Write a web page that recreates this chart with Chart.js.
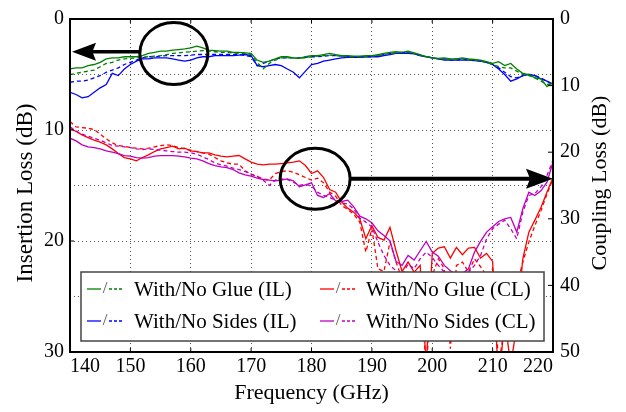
<!DOCTYPE html>
<html><head><meta charset="utf-8">
<script src="https://cdn.jsdelivr.net/npm/chart.js@4.4.0/dist/chart.umd.min.js"></script>
<style>html,body{margin:0;padding:0;background:#fff;}#wrap{width:626px;height:412px;}</style>
</head><body><div id="wrap"><canvas id="c" width="626" height="412"></canvas></div>
<script>
const freq = [140,141,142,143,144,145,146,147,148,149,150,151,152,153,154,155,156,157,158,159,160,161,162,163,164,165,166,167,168,169,170,171,172,173,174,175,176,177,178,179,180,181,182,183,184,185,186,187,188,189,190,191,192,193,194,195,196,197,198,199,200,201,202,203,204,205,206,207,208,209,210,211,212,213,214,215,216,217,218,219,220];

// Insertion loss (left axis, dB)
const withGlueIL = [4.5,4.4,4.4,4.2,4.1,3.9,3.6,3.5,3.5,3.4, 3.4,3.4,3.3,3.1,3.0,2.9,2.9,2.8,2.75,2.7, 2.6,2.45,2.6,2.8,2.85,2.9,2.9,3.0,3.0,3.05, 3.1,3.7,3.9,3.8,3.6,3.4,3.4,3.5,3.55,3.4, 3.3,3.3,3.2,3.1,3.2,3.3,3.3,3.35,3.35,3.3, 3.3,3.2,3.1,3.0,2.95,3.0,2.9,3.05,3.2,3.4, 3.5,3.55,3.5,3.6,3.6,3.5,3.6,3.65,3.7,3.85, 4.0,3.85,4.2,4.0,4.5,4.9,5.0,5.3,5.4,6.1,5.7];
const noGlueIL = [5.0,4.9,4.8,4.7,4.6,4.3,4.0,3.9,3.7,3.6, 3.55,3.5,3.45,3.4,3.35,3.3,3.2,3.1,3.05,3.0, 2.95,2.9,2.85,2.9,2.95,3.0,3.0,3.05,3.1,3.1, 3.2,3.9,4.5,4.0,3.7,3.5,3.5,3.5,3.55,3.5, 3.4,3.35,3.3,3.25,3.3,3.35,3.4,3.4,3.4,3.4, 3.35,3.3,3.2,3.1,3.05,3.0,3.0,3.1,3.3,3.4, 3.5,3.6,3.6,3.65,3.6,3.6,3.65,3.7,3.8,3.9, 4.1,4.3,4.4,4.4,4.7,5.0,5.1,5.3,5.6,5.9,5.8];
const withSidesIL = [6.6,6.8,7.1,7.0,6.6,6.2,5.9,4.9,5.1,4.5, 4.1,3.8,3.6,3.6,3.5,3.5,3.5,3.6,3.7,3.8, 3.7,3.5,3.4,3.4,3.3,3.3,3.3,3.3,3.25,3.2, 3.3,4.2,4.3,4.2,4.1,4.2,4.5,4.8,5.3,4.7, 4.1,4.0,3.8,3.7,3.6,3.5,3.45,3.45,3.45,3.4, 3.4,3.4,3.3,3.2,3.1,3.1,3.1,3.15,3.3,3.4, 3.5,3.6,3.7,3.7,3.7,3.7,3.7,3.75,3.8,3.9, 4.1,4.5,5.0,5.6,5.4,5.1,5.0,5.1,5.4,5.6,5.9];
const noSidesIL = [5.7,5.6,5.6,5.5,5.3,5.1,4.8,4.6,4.4,4.1, 3.9,3.7,3.5,3.4,3.4,3.35,3.3,3.3,3.3,3.3, 3.25,3.2,3.2,3.2,3.2,3.2,3.2,3.2,3.2,3.3, 3.4,4.2,4.0,3.8,3.6,3.5,3.5,3.5,3.5,3.45, 3.4,3.4,3.35,3.3,3.3,3.35,3.4,3.4,3.4,3.4, 3.4,3.3,3.2,3.1,3.1,3.0,3.05,3.1,3.3,3.4, 3.5,3.6,3.6,3.7,3.7,3.6,3.7,3.7,3.8,3.9, 4.1,4.4,4.8,5.2,5.3,5.1,5.0,5.1,5.3,5.6,5.9];

// Coupling loss (right axis, dB)
const withGlueCL = [16.4,16.9,17.4,17.8,18.2,18.5,18.9,19.5,20.2,20.8, 21.0,21.3,20.8,20.4,19.9,19.5,19.3,19.1,19.5,19.4, 19.8,19.9,20.1,20.1,20.4,20.6,20.7,20.6,20.5,21.0, 21.5,21.8,21.9,21.8,21.8,21.7,21.6,21.5,21.3,22.0, 23.2,22.8,23.8,25.6,26.0,27.5,28.4,29.0,30.0,33.0, 31.0,32.8,33.2,31.3,34.8,37.9,36.5,38.0,37.0,52.0, 35.2,34.4,34.2,35.9,34.3,35.4,34.4,34.3,35.9,35.2, 36.4,55.0,45.0,52.0,46.0,36.0,32.0,30.2,28.3,26.0,23.8];
const noGlueCL = [15.4,16.2,16.3,16.4,16.6,17.3,18.0,18.6,19.0,19.1, 19.3,19.4,19.5,19.4,19.2,19.0,18.9,19.0,19.3,19.5, 19.7,19.9,20.1,20.3,20.8,21.3,21.6,21.8,21.8,22.8, 23.3,23.7,24.0,24.2,23.2,22.9,22.8,23.0,23.4,23.8, 24.2,23.9,24.6,26.0,26.6,28.0,28.6,29.3,30.5,35.0, 31.5,37.5,37.9,33.5,36.5,39.0,38.5,39.5,38.0,53.0, 38.5,36.0,37.5,49.5,37.0,36.5,38.0,36.0,37.2,38.5, 37.5,52.0,46.0,45.0,40.0,36.5,33.5,31.0,28.8,26.3,24.0];
const withSidesCL = [17.9,18.3,18.9,19.2,19.3,19.5,19.8,20.0,20.2,20.5, 20.6,20.8,20.9,20.8,20.6,20.5,20.5,20.5,20.6,20.7, 20.9,21.0,21.3,21.7,22.0,22.2,22.3,22.6,23.1,23.4, 23.6,23.9,24.1,24.2,24.3,24.2,24.0,24.3,25.2,24.9, 24.6,26.5,26.8,26.2,27.3,27.4,27.2,28.2,29.6,30.0, 30.6,31.8,32.5,33.3,36.4,37.0,35.5,36.2,34.8,33.4, 35.0,35.6,37.0,37.8,38.5,38.2,37.5,35.0,33.4,32.0, 31.2,30.4,30.0,29.8,32.0,28.5,26.0,26.5,25.8,24.5,21.5];
const noSidesCL = [16.2,16.8,17.3,17.6,17.9,18.2,18.6,19.0,19.1,19.2, 19.3,19.5,19.6,19.5,19.6,19.7,19.8,19.9,20.0,20.0, 20.1,20.3,20.7,21.1,21.6,21.9,22.1,22.4,22.6,22.9, 23.3,23.6,24.2,25.0,24.2,24.0,24.1,24.5,25.0,24.8, 25.1,26.0,26.5,26.8,27.2,27.6,27.8,28.5,29.9,30.5, 31.2,33.5,35.5,37.0,37.8,38.5,36.8,37.5,36.0,35.0, 35.8,37.0,38.0,39.0,39.5,39.0,38.0,37.0,35.5,33.0, 31.5,30.8,30.2,31.5,33.0,29.0,26.5,26.2,25.2,23.5,21.2];

const xTicks = [140,150,160,170,180,190,200,210,220];
const leftTicks = [0,10,20,30];
const rightTicks = [0,10,20,30,40,50];
const legendLabels = ['With/No Glue (IL)','With/No Sides (IL)','With/No Glue (CL)','With/No Sides (CL)'];
const xTitle = 'Frequency (GHz)';
const leftTitle = 'Insertion Loss (dB)';
const rightTitle = 'Coupling Loss (dB)';

const GREEN='#008000', BLUE='#0000ff', RED='#ff0000', MAG='#bf00bf';
const SERIF='"Liberation Serif", "Times New Roman", serif';
const pts = arr => freq.map((f,i)=>({x:f,y:arr[i]}));
const ds = (arr, color, dashed, axis) => ({data:pts(arr), borderColor:color, backgroundColor:color, borderWidth:1.3, borderDash: dashed?[4,3]:[], yAxisID:axis, pointRadius:0, tension:0, fill:false});

const datasets = [
  ds(withGlueIL, GREEN, false, 'yL'),
  ds(noGlueIL, GREEN, true, 'yL'),
  ds(withSidesIL, BLUE, false, 'yL'),
  ds(noSidesIL, BLUE, true, 'yL'),
  ds(withSidesCL, MAG, false, 'yR'),
  ds(noSidesCL, MAG, true, 'yR'),
  ds(withGlueCL, RED, false, 'yR'),
  ds(noGlueCL, RED, true, 'yR'),
];

function arrow(ctx, xFrom, xTip, y, headLen, half, lw){
  const dir = Math.sign(xTip - xFrom);
  const base = xTip - dir*headLen;
  ctx.lineWidth = lw; ctx.strokeStyle='#000'; ctx.fillStyle='#000';
  ctx.beginPath(); ctx.moveTo(xFrom, y); ctx.lineTo(base + dir*headLen*0.3, y); ctx.stroke();
  ctx.beginPath();
  ctx.moveTo(xTip, y);
  ctx.lineTo(base, y - half);
  ctx.lineTo(base + dir*headLen*0.15, y);
  ctx.lineTo(base, y + half);
  ctx.closePath(); ctx.fill();
}

const overlay = {
  id:'overlay',
  afterDatasetsDraw(chart){
    const {ctx, chartArea:a, scales} = chart;
    const x = scales.x, yL = scales.yL, yR = scales.yR;
    ctx.save();
    // ellipses
    const e1 = {cx:x.getPixelForValue(157.2), cy:yL.getPixelForValue(3.1), rx:34, ry:31};
    const e2 = {cx:x.getPixelForValue(180.6), cy:yL.getPixelForValue(14.4), rx:35, ry:30.5};
    ctx.strokeStyle='#000'; ctx.lineWidth=3;
    [e1,e2].forEach(e=>{ctx.beginPath(); ctx.ellipse(e.cx,e.cy,e.rx,e.ry,0,0,Math.PI*2); ctx.stroke();});
    // arrows
    arrow(ctx, e1.cx - e1.rx, x.getPixelForValue(140)+2, yL.getPixelForValue(2.95), 24, 9, 3.5);
    arrow(ctx, e2.cx + e2.rx, x.getPixelForValue(220), yR.getPixelForValue(24), 27, 10, 4);

    // legend box
    const lx=81, ly=272, lw=463, lh=69;
    ctx.fillStyle='#fff'; ctx.fillRect(lx,ly,lw,lh);
    ctx.strokeStyle='#444'; ctx.lineWidth=1.5; ctx.strokeRect(lx,ly,lw,lh);
    const items = [
      {c:GREEN, t:legendLabels[0], sx:87, tx:134, y:289},
      {c:BLUE,  t:legendLabels[1], sx:87, tx:134, y:321},
      {c:RED,   t:legendLabels[2], sx:320, tx:366, y:289},
      {c:MAG,   t:legendLabels[3], sx:320, tx:366, y:321},
    ];
    items.forEach(it=>{
      ctx.strokeStyle=it.c; ctx.lineWidth=1.3;
      ctx.setLineDash([]);
      ctx.beginPath(); ctx.moveTo(it.sx, it.y); ctx.lineTo(it.sx+14, it.y); ctx.stroke();
      ctx.setLineDash([3,2]);
      ctx.beginPath(); ctx.moveTo(it.sx+22, it.y); ctx.lineTo(it.sx+37, it.y); ctx.stroke();
      ctx.setLineDash([]);
      ctx.fillStyle='#555'; ctx.font='17px '+SERIF; ctx.textBaseline='middle'; ctx.textAlign='center';
      ctx.fillText('/', it.sx+18, it.y);
      ctx.fillStyle='#000'; ctx.font='21px '+SERIF; ctx.textAlign='left';
      ctx.fillText(it.t, it.tx, it.y+1);
    });

    // frame
    ctx.strokeStyle='#000'; ctx.lineWidth=2;
    ctx.strokeRect(a.left, a.top, a.right-a.left, a.bottom-a.top);
    // inward ticks
    ctx.lineWidth=1;
    xTicks.forEach(v=>{const p=x.getPixelForValue(v); ctx.beginPath(); ctx.moveTo(p,a.bottom); ctx.lineTo(p,a.bottom-4); ctx.moveTo(p,a.top); ctx.lineTo(p,a.top+4); ctx.stroke();});
    leftTicks.forEach(v=>{const p=yL.getPixelForValue(v); ctx.beginPath(); ctx.moveTo(a.left,p); ctx.lineTo(a.left+4,p); ctx.stroke();});
    rightTicks.forEach(v=>{const p=yR.getPixelForValue(v); ctx.beginPath(); ctx.moveTo(a.right,p); ctx.lineTo(a.right-5,p); ctx.stroke();});

    // y titles (both read bottom-to-top)
    ctx.fillStyle='#000'; ctx.textAlign='center'; ctx.textBaseline='middle';
    ctx.font='23px '+SERIF;
    ctx.save(); ctx.translate(26, 193); ctx.rotate(-Math.PI/2); ctx.fillText(leftTitle,0,0); ctx.restore();
    ctx.font='22px '+SERIF;
    ctx.save(); ctx.translate(600, 183); ctx.rotate(-Math.PI/2); ctx.fillText(rightTitle,0,0); ctx.restore();
    ctx.restore();
  }
};

new Chart(document.getElementById('c'), {
  type:'line',
  data:{datasets},
  options:{
    responsive:false, animation:false, devicePixelRatio:1,
    layout:{padding:{top:14,left:0,right:0,bottom:0}},
    plugins:{legend:{display:false}, tooltip:{enabled:false}},
    scales:{
      x:{type:'linear', position:'bottom', min:140, max:220,
        afterBuildTicks:s=>{s.ticks = xTicks.map(v=>({value:v}));},
        ticks:{align:'inner', maxRotation:0, autoSkip:false, color:'#000', font:{family:SERIF,size:20}, padding:3},
        grid:{color:'#555', lineWidth:1, drawTicks:false},
        border:{display:false, dash:[1,3]},
        title:{display:true, text:xTitle, color:'#000', font:{family:SERIF,size:22}, padding:{top:0,bottom:6}},
        afterFit:s=>{s.height=60;}
      },
      yL:{type:'linear', position:'left', reverse:true, min:0, max:30,
        ticks:{stepSize:5, autoSkip:false, color:'#000', font:{family:SERIF,size:20}, padding:6,
          callback:v=> leftTicks.includes(v) ? String(v) : ''},
        grid:{color:'#555', lineWidth:1, drawTicks:false},
        border:{display:false, dash:[1,3]},
        afterFit:s=>{s.width=70;}
      },
      yR:{type:'linear', position:'right', reverse:true, min:0, max:50,
        afterBuildTicks:s=>{s.ticks = rightTicks.map(v=>({value:v}));},
        ticks:{autoSkip:false, color:'#000', font:{family:SERIF,size:20}, padding:7},
        grid:{drawOnChartArea:false, drawTicks:false},
        border:{display:false},
        afterFit:s=>{s.width=73;}
      }
    }
  },
  plugins:[overlay]
});
</script>
</body></html>
